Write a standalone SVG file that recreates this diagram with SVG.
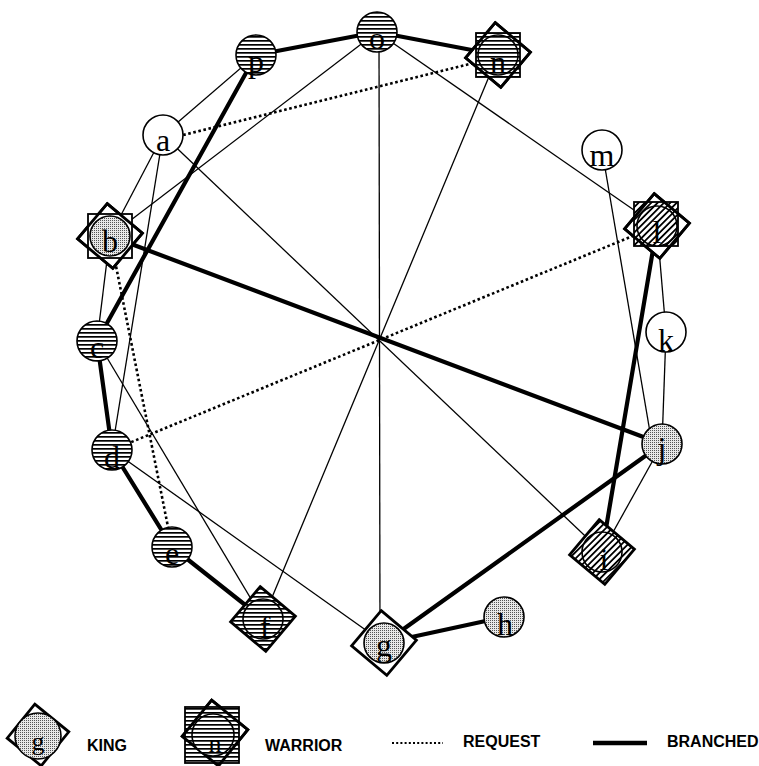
<svg xmlns="http://www.w3.org/2000/svg" width="759" height="766" viewBox="0 0 759 766">
<style>
.thin{stroke:#000;stroke-width:1.3;fill:none}
.thick{stroke:#000;stroke-width:4.2;fill:none;stroke-linecap:round}
.req{stroke:#000;stroke-width:2.6;stroke-dasharray:2.6 2.6;fill:none}
.ring{stroke:#000;stroke-width:1.6}
.dia{stroke:#000;stroke-width:2.8;stroke-linejoin:miter}
.sq{stroke:#000;stroke-width:1.8}
.lbl{font-family:"Liberation Serif","Times New Roman",serif;font-size:32px;text-anchor:middle;fill:#000}
.leg{font-family:"Liberation Sans",Arial,sans-serif;font-size:16px;font-weight:bold;fill:#000}
</style>
<defs>
<pattern id="hs" patternUnits="userSpaceOnUse" width="4" height="4">
<rect width="4" height="4" fill="#fff"/><rect width="4" height="1.7" fill="#000"/>
</pattern>
<pattern id="dg" patternUnits="userSpaceOnUse" width="4.5" height="4.5" patternTransform="rotate(-45)">
<rect width="4.5" height="4.5" fill="#fff"/><rect width="4.5" height="1.8" fill="#000"/>
</pattern>
<pattern id="st" patternUnits="userSpaceOnUse" width="2" height="2">
<rect width="2" height="2" fill="#e8e8e8"/><rect width="1" height="1" fill="#555"/>
</pattern>
</defs>
<rect width="759" height="766" fill="#fff"/>
<g id="connectors">
<line class="thin" x1="256" y1="55" x2="163" y2="135"/>
<line class="thin" x1="163" y1="135" x2="110" y2="236"/>
<line class="thin" x1="110" y1="236" x2="97" y2="341"/>
<line class="thin" x1="377" y1="32" x2="110" y2="236"/>
<line class="thin" x1="379" y1="32" x2="380" y2="643"/>
<line class="thin" x1="377" y1="32" x2="657" y2="226"/>
<line class="thin" x1="498" y1="55" x2="263" y2="619"/>
<line class="thin" x1="163" y1="135" x2="112" y2="450"/>
<line class="thin" x1="163" y1="135" x2="602" y2="552"/>
<line class="thin" x1="97" y1="341" x2="263" y2="619"/>
<line class="thin" x1="112" y1="450" x2="384" y2="643"/>
<line class="thin" x1="602" y1="150" x2="652" y2="444"/>
<line class="thin" x1="657" y1="226" x2="666" y2="332"/>
<line class="thin" x1="666" y1="332" x2="662" y2="444"/>
<line class="thin" x1="662" y1="444" x2="602" y2="552"/>
<line class="req" x1="163" y1="140" x2="498" y2="57"/>
<line class="req" x1="110" y1="236" x2="172" y2="547"/>
<line class="req" x1="112" y1="450" x2="657" y2="226"/>
<line class="thick" x1="256" y1="55" x2="377" y2="32"/>
<line class="thick" x1="377" y1="32" x2="498" y2="55"/>
<line class="thick" x1="256" y1="55" x2="97" y2="341"/>
<line class="thick" x1="110" y1="236" x2="662" y2="444"/>
<line class="thick" x1="97" y1="341" x2="112" y2="450"/>
<line class="thick" x1="112" y1="450" x2="172" y2="547"/>
<line class="thick" x1="172" y1="547" x2="263" y2="619"/>
<line class="thick" x1="384" y1="643" x2="662" y2="444"/>
<line class="thick" x1="384" y1="643" x2="504" y2="617"/>
<line class="thick" x1="657" y1="226" x2="602" y2="552"/>
</g>
<g id="node-o"><circle class="ring" cx="377" cy="32" r="20" fill="url(#hs)"/><text class="lbl" x="377" y="49">o</text></g>
<g id="node-p"><circle class="ring" cx="256" cy="55" r="20" fill="url(#hs)"/><text class="lbl" x="256" y="72">p</text></g>
<g id="node-n">
<polygon class="dia" points="495.2,22.6 530.4,52.2 500.8,87.4 465.6,57.8" fill="#fff"/>
<rect class="sq" x="476" y="33" width="44" height="44" fill="url(#hs)"/>
<polygon class="dia" points="495.2,22.6 530.4,52.2 500.8,87.4 465.6,57.8" fill="none"/>
<circle class="ring" cx="498" cy="55" r="20" fill="url(#hs)"/><text class="lbl" x="498" y="73">n</text></g>
<g id="node-a"><circle class="ring" cx="163" cy="135" r="20" fill="#fff"/><text class="lbl" x="163" y="151">a</text></g>
<g id="node-m"><circle class="ring" cx="602" cy="150" r="20" fill="#fff"/><text class="lbl" x="602" y="166">m</text></g>
<g id="node-b">
<polygon class="dia" points="107.2,203.6 142.4,233.2 112.8,268.4 77.6,238.8" fill="#fff"/>
<rect class="sq" x="88" y="214" width="44" height="44" fill="#fff"/>
<polygon class="dia" points="107.2,203.6 142.4,233.2 112.8,268.4 77.6,238.8" fill="none"/>
<circle class="ring" cx="110" cy="236" r="20" fill="url(#st)"/><text class="lbl" x="110" y="252">b</text></g>
<g id="node-l">
<polygon class="dia" points="654.2,193.6 689.4,223.2 659.8,258.4 624.6,228.8" fill="#fff"/>
<rect class="sq" x="634" y="202" width="44" height="44" fill="url(#dg)"/>
<polygon class="dia" points="654.2,193.6 689.4,223.2 659.8,258.4 624.6,228.8" fill="none"/>
<circle class="ring" cx="657" cy="226" r="20" fill="url(#dg)"/><text class="lbl" x="657" y="243">l</text></g>
<g id="node-c"><circle class="ring" cx="97" cy="341" r="20" fill="url(#hs)"/><text class="lbl" x="97" y="358">c</text></g>
<g id="node-k"><circle class="ring" cx="666" cy="332" r="20" fill="#fff"/><text class="lbl" x="666" y="351">k</text></g>
<g id="node-d"><circle class="ring" cx="112" cy="450" r="20" fill="url(#hs)"/><text class="lbl" x="112" y="468">d</text></g>
<g id="node-j"><circle class="ring" cx="662" cy="444" r="20" fill="url(#st)"/><text class="lbl" x="662" y="459">j</text></g>
<g id="node-e"><circle class="ring" cx="172" cy="547" r="20" fill="url(#hs)"/><text class="lbl" x="172" y="564">e</text></g>
<g id="node-i">
<polygon class="dia" points="599.2,519.6 634.4,549.2 604.8,584.4 569.6,554.8" fill="url(#dg)"/>
<circle class="ring" cx="602" cy="552" r="20" fill="url(#dg)"/><text class="lbl" x="604" y="570">i</text></g>
<g id="node-f">
<polygon class="dia" points="260.2,586.6 295.4,616.2 265.8,651.4 230.6,621.8" fill="url(#hs)"/>
<circle class="ring" cx="263" cy="619" r="20" fill="url(#hs)"/><text class="lbl" x="265" y="638">f</text></g>
<g id="node-g">
<polygon class="dia" points="381.2,610.6 416.4,640.2 386.8,675.4 351.6,645.8" fill="#fff"/>
<circle class="ring" cx="384" cy="643" r="20" fill="url(#st)"/><text class="lbl" x="384" y="656">g</text></g>
<g id="node-h"><circle class="ring" cx="504" cy="617" r="20" fill="url(#st)"/><text class="lbl" x="505" y="635">h</text></g>
<g id="legend">
<g id="legend-king">
<polygon class="dia" points="34.8,704.2 68.8,731.8 41.2,765.8 7.2,738.2" fill="#fff"/>
<circle class="ring" cx="38" cy="736" r="23" fill="url(#st)"/>
<text class="lbl" x="38" y="750" style="font-size:26px">g</text>
<text class="leg" x="87" y="751">KING</text>
</g>
<g id="legend-warrior">
<polygon class="dia" points="211.6,700.2 247.8,729.6 218.4,765.8 182.2,736.4" fill="#fff"/>
<rect class="sq" x="185" y="707" width="54" height="56" fill="url(#hs)"/>
<polygon class="dia" points="211.6,700.2 247.8,729.6 218.4,765.8 182.2,736.4" fill="none"/>
<circle class="ring" cx="213" cy="735" r="21" fill="url(#hs)"/>
<text class="lbl" x="215" y="752" style="font-size:26px">n</text>
<text class="leg" x="265" y="751">WARRIOR</text>
</g>
<g id="legend-request">
<line class="req" x1="392" y1="743" x2="443" y2="743" style="stroke-width:2;stroke-dasharray:2 2.2"/>
<text class="leg" x="463" y="747">REQUEST</text>
</g>
<g id="legend-branched">
<line class="thick" x1="593" y1="743" x2="647" y2="743" style="stroke-width:4.5;stroke-linecap:butt"/>
<text class="leg" x="667" y="747">BRANCHED</text>
</g>
</g>
</svg>
